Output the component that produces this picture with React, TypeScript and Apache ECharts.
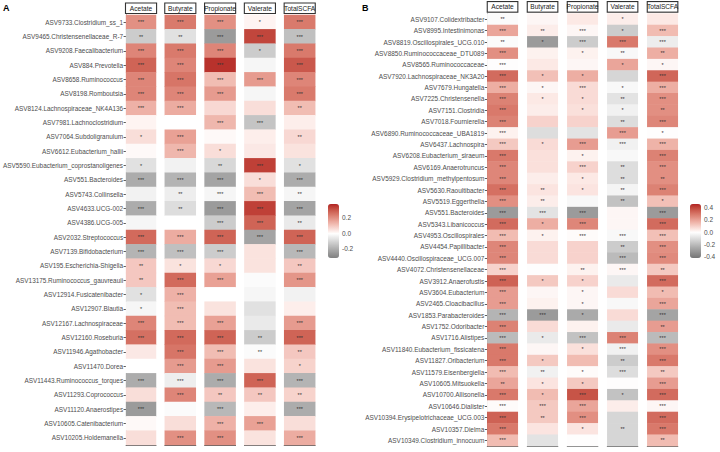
import React, { useEffect, useRef } from "react";
import * as echarts from "echarts";

const measures = ["Acetate", "Butyrate", "Propionate", "Valerate", "TotalSCFA"];

const taxaA = [
  "ASV9733.Clostridium_ss_1",
  "ASV9465.Christensenellaceae_R-7",
  "ASV9208.Faecalibacterium",
  "ASV884.Prevotella",
  "ASV8658.Ruminococcus",
  "ASV8198.Romboutsia",
  "ASV8124.Lachnospiraceae_NK4A136",
  "ASV7981.Lachnoclostridium",
  "ASV7064.Subdoligranulum",
  "ASV6612.Eubacterium_hallii",
  "ASV5590.Eubacterium_coprostanoligenes",
  "ASV551.Bacteroides",
  "ASV5743.Collinsella",
  "ASV4633.UCG-002",
  "ASV4386.UCG-005",
  "ASV2032.Streptococcus",
  "ASV7139.Bifidobacterium",
  "ASV195.Escherichia-Shigella",
  "ASV13175.Ruminococcus_gauvreauii",
  "ASV12914.Fusicatenibacter",
  "ASV12907.Blautia",
  "ASV12167.Lachnospiraceae",
  "ASV12160.Roseburia",
  "ASV11946.Agathobacter",
  "ASV11470.Dorea",
  "ASV11443.Ruminococcus_torques",
  "ASV11293.Coprococcus",
  "ASV11120.Anaerostipes",
  "ASV10605.Catenibacterium",
  "ASV10205.Holdemanella",
];

// columns: Acetate, Butyrate, Propionate, Valerate, TotalSCFA
const corrA = [
  [0.2, 0.24, 0.2, 0.02, 0.24],
  [-0.12, -0.07, -0.24, 0.33, -0.15],
  [0.22, 0.24, 0.22, -0.12, 0.24],
  [0.28, 0.22, 0.36, -0.02, 0.3],
  [0.22, 0.25, 0.12, 0.18, 0.22],
  [0.22, 0.22, 0.18, -0.02, 0.24],
  [0.14, 0.15, 0.07, 0.06, 0.12],
  [0.02, 0.0, 0.13, -0.14, 0.03],
  [0.06, 0.17, 0.01, 0.03, 0.07],
  [0.01, 0.13, 0.06, 0.04, 0.05],
  [-0.07, -0.03, -0.09, 0.34, -0.07],
  [-0.2, -0.18, -0.22, 0.06, -0.2],
  [-0.03, -0.04, -0.02, 0.12, -0.02],
  [-0.2, -0.08, -0.24, 0.34, -0.22],
  [-0.02, 0.0, -0.12, 0.28, -0.05],
  [0.27, 0.15, 0.28, -0.22, 0.28],
  [-0.18, -0.15, -0.12, 0.05, -0.17],
  [0.1, 0.05, 0.07, 0.05, 0.1],
  [0.1, 0.27, 0.17, -0.01, 0.19],
  [-0.07, 0.14, 0.0, -0.02, -0.03],
  [-0.02, 0.12, 0.05, -0.07, 0.03],
  [0.22, 0.12, 0.17, -0.05, 0.18],
  [0.26, 0.27, 0.28, -0.12, 0.28],
  [0.04, 0.25, 0.12, -0.01, 0.1],
  [0.0, 0.18, 0.18, 0.05, 0.08],
  [-0.2, -0.04, -0.2, 0.28, -0.18],
  [0.06, 0.22, 0.1, 0.1, 0.08],
  [-0.24, -0.01, -0.17, 0.03, -0.2],
  [0.01, 0.06, 0.14, 0.17, 0.06],
  [0.06, 0.2, 0.2, 0.05, 0.15],
];

const sigA = [
  ["***", "***", "***", "*", "***"],
  ["**", "**", "***", "***", "***"],
  ["***", "***", "***", "*", "***"],
  ["***", "***", "***", "", "***"],
  ["***", "***", "***", "***", "***"],
  ["***", "***", "***", "", "***"],
  ["***", "***", "", "", "**"],
  ["", "", "***", "***", ""],
  ["*", "***", "", "", "**"],
  ["", "***", "*", "", ""],
  ["*", "", "**", "***", "*"],
  ["***", "***", "***", "*", "***"],
  ["", "**", "***", "***", "**"],
  ["***", "**", "***", "***", "***"],
  ["", "", "***", "***", "**"],
  ["***", "***", "***", "***", "***"],
  ["***", "***", "***", "", "***"],
  ["**", "*", "*", "", "**"],
  ["**", "***", "***", "", "***"],
  ["*", "***", "", "", ""],
  ["*", "***", "", "", ""],
  ["***", "***", "***", "", "***"],
  ["***", "***", "***", "**", "***"],
  ["", "***", "***", "**", "**"],
  ["", "***", "***", "", "*"],
  ["***", "***", "***", "***", "***"],
  ["", "***", "**", "**", "**"],
  ["***", "", "***", "", "***"],
  ["", "", "***", "***", ""],
  ["", "***", "***", "", "***"],
];

const taxaB = [
  "ASV9107.Colidextribacter",
  "ASV8995.Intestinimonas",
  "ASV8819.Oscillospirales_UCG.010",
  "ASV8850.Ruminococcaceae_DTU089",
  "ASV8565.Ruminococcaceae",
  "ASV7920.Lachnospiraceae_NK3A20",
  "ASV7679.Hungatella",
  "ASV7225.Christensenella",
  "ASV7151.Clostridia",
  "ASV7018.Fournierella",
  "ASV6890.Ruminococcaceae_UBA1819",
  "ASV6437.Lachnospira",
  "ASV6208.Eubacterium_siraeum",
  "ASV6169.Anaerotruncus",
  "ASV5929.Clostridium_methylpentosum",
  "ASV5630.Raoultibacter",
  "ASV5519.Eggerthella",
  "ASV551.Bacteroides",
  "ASV5343.Libanicoccus",
  "ASV4953.Oscillospirales",
  "ASV4454.Papillibacter",
  "ASV4440.Oscillospiraceae_UCG.007",
  "ASV4072.Christensenellaceae",
  "ASV3912.Anaerofustis",
  "ASV3604.Eubacterium",
  "ASV2465.Cloacibacillus",
  "ASV1853.Parabacteroides",
  "ASV1752.Odoribacter",
  "ASV1716.Alistipes",
  "ASV11840.Eubacterium_fissicatena",
  "ASV11827.Oribacterium",
  "ASV11579.Eisenbergiella",
  "ASV10605.Mitsuokella",
  "ASV10700.Allisonella",
  "ASV10646.Dialister",
  "ASV10394.Erysipelotrichaceae_UCG.003",
  "ASV10357.Dielma",
  "ASV10349.Clostridium_innocuum",
];

const corrB = [
  [-0.01, 0.02, 0.05, 0.04, 0.05],
  [0.2, 0.04, 0.02, -0.15, 0.15],
  [-0.01, -0.3, -0.15, 0.3, -0.05],
  [0.25, 0.03, 0.03, -0.02, 0.18],
  [-0.0, 0.05, 0.02, 0.2, 0.02],
  [0.33, 0.14, 0.18, -0.12, 0.34],
  [0.18, 0.02, 0.08, -0.02, 0.18],
  [0.28, 0.05, 0.08, -0.08, 0.25],
  [0.3, 0.04, 0.07, -0.04, 0.25],
  [0.28, 0.1, 0.1, -0.1, 0.27],
  [0.03, -0.1, -0.08, 0.22, 0.0],
  [0.12, 0.08, 0.22, -0.04, 0.17],
  [0.3, 0.07, 0.03, -0.02, 0.28],
  [0.27, 0.07, 0.1, -0.1, 0.25],
  [0.27, 0.04, 0.05, -0.1, 0.25],
  [0.32, 0.06, 0.06, -0.03, 0.28],
  [0.25, 0.04, -0.02, -0.18, 0.14],
  [-0.3, -0.08, -0.3, 0.02, -0.3],
  [0.33, 0.18, 0.27, 0.02, 0.33],
  [0.15, 0.03, 0.01, -0.02, 0.14],
  [0.27, 0.08, 0.1, -0.15, 0.25],
  [0.27, 0.08, 0.1, -0.2, 0.26],
  [0.1, 0.0, 0.03, 0.02, 0.12],
  [0.35, 0.12, 0.1, -0.06, 0.33],
  [0.22, 0.02, 0.02, 0.08, 0.15],
  [0.22, 0.03, 0.02, -0.02, 0.2],
  [-0.22, -0.3, -0.25, 0.08, -0.27],
  [0.28, 0.08, 0.03, -0.06, 0.22],
  [-0.2, -0.06, -0.18, 0.28, -0.2],
  [0.3, 0.02, 0.07, -0.04, 0.25],
  [0.3, 0.12, 0.15, -0.15, 0.3],
  [0.15, -0.04, 0.01, -0.1, 0.12],
  [0.2, 0.06, 0.12, 0.0, 0.22],
  [0.3, 0.15, 0.38, -0.18, 0.33],
  [0.01, 0.12, 0.2, 0.04, 0.02],
  [0.35, 0.12, 0.25, -0.12, 0.33],
  [0.3, 0.06, 0.06, -0.12, 0.3],
  [0.15, -0.08, -0.0, -0.12, 0.15],
];

const sigB = [
  ["**", "", "", "*", ""],
  ["***", "**", "***", "*", "***"],
  ["**", "*", "***", "***", "***"],
  ["***", "", "*", "**", "**"],
  ["***", "", "", "*", "*"],
  ["***", "*", "*", "", "***"],
  ["***", "*", "***", "*", "***"],
  ["***", "*", "*", "**", "***"],
  ["***", "", "*", "*", "**"],
  ["***", "", "", "**", "***"],
  ["***", "", "", "***", "*"],
  ["***", "*", "***", "***", "***"],
  ["***", "", "*", "", "***"],
  ["***", "", "***", "**", "***"],
  ["***", "", "*", "**", "**"],
  ["***", "**", "*", "**", "***"],
  ["***", "**", "", "**", "*"],
  ["***", "***", "***", "", "***"],
  ["***", "*", "***", "", "***"],
  ["***", "*", "***", "***", "***"],
  ["***", "", "", "**", "***"],
  ["***", "", "", "***", "***"],
  ["***", "", "**", "***", "**"],
  ["***", "*", "*", "", "***"],
  ["***", "", "*", "", "*"],
  ["***", "", "*", "", "***"],
  ["***", "***", "*", "", "***"],
  ["***", "", "", "", "**"],
  ["***", "*", "***", "***", "***"],
  ["***", "", "*", "***", "***"],
  ["***", "*", "", "**", "***"],
  ["***", "**", "*", "***", "**"],
  ["**", "*", "*", "", "***"],
  ["***", "*", "***", "*", "***"],
  ["***", "***", "***", "", "***"],
  ["***", "**", "***", "", "***"],
  ["***", "", "*", "**", "***"],
  ["***", "", "", "", "**"],
];

const limitsA = [-0.31, 0.38];
const limitsB = [-0.42, 0.47];
const ticksA = [0.2, 0.0, -0.2];
const ticksB = [0.4, 0.2, 0.0, -0.2, -0.4];

const LOW = "#666666";
const MID = "#ffffff";
const HIGH = "#b22222";

// sRGB <-> CIE Lab helpers (ggplot's gradient2 interpolates in Lab)
function hexRgb(h: string) {
  return [1, 3, 5].map((i) => parseInt(h.slice(i, i + 2), 16));
}
function srgbToLin(c: number) {
  c /= 255;
  return c <= 0.04045 ? c / 12.92 : Math.pow((c + 0.055) / 1.055, 2.4);
}
function linToSrgb(c: number) {
  const v = c <= 0.0031308 ? 12.92 * c : 1.055 * Math.pow(c, 1 / 2.4) - 0.055;
  return Math.max(0, Math.min(255, Math.round(v * 255)));
}
const WP = [0.95047, 1.0, 1.08883];
function toLab(hex: string) {
  const [r, g, b] = hexRgb(hex).map(srgbToLin);
  const X = (0.4124 * r + 0.3576 * g + 0.1805 * b) / WP[0];
  const Y = (0.2126 * r + 0.7152 * g + 0.0722 * b) / WP[1];
  const Z = (0.0193 * r + 0.1192 * g + 0.9505 * b) / WP[2];
  const f = (t: number) => (t > 0.008856 ? Math.cbrt(t) : 7.787 * t + 16 / 116);
  const fx = f(X), fy = f(Y), fz = f(Z);
  return [116 * fy - 16, 500 * (fx - fy), 200 * (fy - fz)];
}
function fromLab(lab: number[]) {
  const fy = (lab[0] + 16) / 116;
  const fx = fy + lab[1] / 500;
  const fz = fy - lab[2] / 200;
  const inv = (t: number) => (t * t * t > 0.008856 ? t * t * t : (t - 16 / 116) / 7.787);
  const X = inv(fx) * WP[0], Y = inv(fy) * WP[1], Z = inv(fz) * WP[2];
  const r = 3.2406 * X - 1.5372 * Y - 0.4986 * Z;
  const g = -0.9689 * X + 1.8758 * Y + 0.0415 * Z;
  const b = 0.0557 * X - 0.204 * Y + 1.057 * Z;
  return "#" + [r, g, b].map((c) => linToSrgb(c).toString(16).padStart(2, "0")).join("");
}
function colorStops(min: number, max: number, n: number) {
  const M = Math.max(Math.abs(min), Math.abs(max));
  const lo = toLab(LOW), mi = toLab(MID), hi = toLab(HIGH);
  const out: string[] = [];
  for (let i = 0; i < n; i++) {
    const v = min + ((max - min) * i) / (n - 1);
    const t = Math.abs(v) / M;
    const target = v < 0 ? lo : hi;
    out.push(fromLab(mi.map((c, k) => c + (target[k] - c) * t)));
  }
  return out;
}

const FONT = "Liberation Sans, Arial, sans-serif";

export default function App() {
  const ref = useRef<HTMLDivElement>(null);
  useEffect(() => {
    if (!ref.current) return;
    const chart = echarts.init(ref.current, undefined, { renderer: "svg" });

    const panels = [
      { taxa: taxaA, corr: corrA, sig: sigA, left: 125, step: 39.8, width: 31, top: 15, height: 430, labelSize: 6.4, limits: limitsA, ticks: ticksA, cbLeft: 328, cbTop: 204, cbH: 54 },
      { taxa: taxaB, corr: corrB, sig: sigB, left: 487.3, step: 40, width: 30.5, top: 13.6, height: 432.5, labelSize: 6.45, limits: limitsB, ticks: ticksB, cbLeft: 690, cbTop: 204, cbH: 54 },
    ];

    const grid: any[] = [];
    const xAxis: any[] = [];
    const yAxis: any[] = [];
    const series: any[] = [];
    const visualMap: any[] = [];
    const graphic: any[] = [];

    panels.forEach((p, pi) => {
      const sIdx: number[] = [];
      measures.forEach((m, j) => {
        const g = pi * 5 + j;
        grid.push({ left: p.left + p.step * j, top: p.top, width: p.width, height: p.height, containLabel: false });
        xAxis.push({
          gridIndex: g,
          type: "category",
          data: [m],
          position: "top",
          axisLine: { show: false },
          axisTick: { show: false },
          splitLine: { show: false },
          axisLabel: {
            fontSize: 6.6,
            fontFamily: FONT,
            color: "#1a1a1a",
            margin: 2,
            width: p.width - 1,
            height: 9.5,
            lineHeight: 9.5,
            align: "center",
            padding: [0, 0, 0, 0],
            backgroundColor: "#ffffff",
            borderColor: "#333333",
            borderWidth: 1.1,
          },
        });
        xAxis.push({
          gridIndex: g,
          type: "category",
          data: [""],
          position: "bottom",
          axisLine: { show: true, lineStyle: { color: "#333333", width: 0.8 } },
          axisTick: { show: false },
          axisLabel: { show: false },
          splitLine: { show: false },
        });
        yAxis.push({
          gridIndex: g,
          type: "category",
          data: p.taxa,
          inverse: true,
          axisLine: { show: j === 0, lineStyle: { color: "#333333", width: 0.8 } },
          axisTick: { show: j === 0, length: 2.5, alignWithLabel: true, lineStyle: { color: "#333333", width: 0.8 } },
          axisLabel: { show: j === 0, fontSize: p.labelSize, fontFamily: FONT, color: "#4d4d4d", margin: 3, interval: 0 },
          splitLine: { show: false },
        });
        sIdx.push(series.length);
        series.push({
          type: "heatmap",
          xAxisIndex: g * 2,
          yAxisIndex: g,
          data: p.corr.map((row, i) => [0, i, row[j], p.sig[i][j]]),
          label: {
            show: true,
            formatter: (d: any) => d.data[3],
            fontSize: 5.5,
            fontFamily: FONT,
            color: "#333333",
          },
          itemStyle: { borderWidth: 0 },
          emphasis: { disabled: true },
        });
      });
      visualMap.push({
        type: "continuous",
        seriesIndex: sIdx,
        dimension: 2,
        min: p.limits[0],
        max: p.limits[1],
        calculable: false,
        orient: "vertical",
        left: p.cbLeft,
        top: p.cbTop,
        itemWidth: 11,
        itemHeight: p.cbH,
        padding: 0,
        inRange: { color: colorStops(p.limits[0], p.limits[1], 41) },
      });
      p.ticks.forEach((t) => {
        const y = p.cbTop + ((p.limits[1] - t) / (p.limits[1] - p.limits[0])) * p.cbH;
        graphic.push({
          type: "text",
          left: p.cbLeft + 14,
          top: y - 4,
          style: { text: t.toFixed(1), fill: "#4d4d4d", font: `6.5px ${FONT}` },
        });
      });
    });

    graphic.push({ type: "text", left: 3, top: 3, style: { text: "A", fill: "#000", font: `bold 9px ${FONT}` } });
    graphic.push({ type: "text", left: 362, top: 3, style: { text: "B", fill: "#000", font: `bold 9px ${FONT}` } });

    chart.setOption({
      animation: false,
      backgroundColor: "#ffffff",
      grid,
      xAxis,
      yAxis,
      series,
      visualMap,
      graphic,
    });
    return () => chart.dispose();
  }, []);
  return <div ref={ref} style={{ position: "fixed", left: 0, top: 0, width: 720, height: 452 }} />;
}
